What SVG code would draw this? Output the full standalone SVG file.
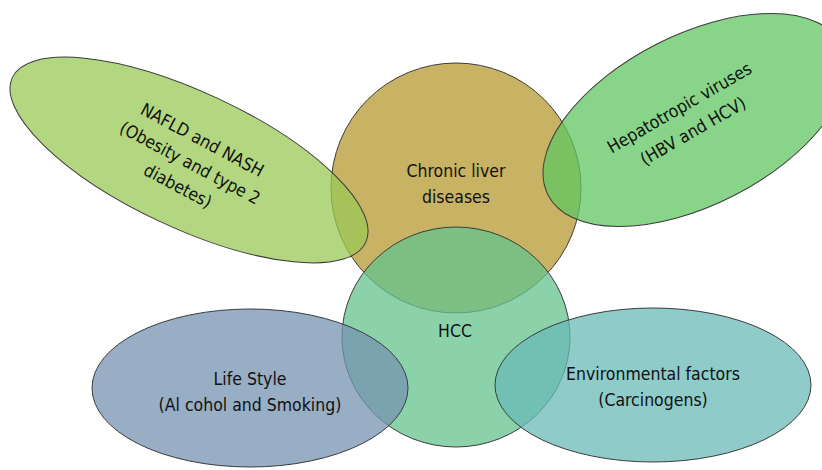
<svg xmlns="http://www.w3.org/2000/svg" width="822" height="470" viewBox="0 0 822 470">
<style>
.sh{stroke:#3c3c3c;stroke-width:1;fill-opacity:0.75}
.t{font-family:"DejaVu Sans Condensed","DejaVu Sans",sans-serif;font-size:17.5px;fill:#111;text-anchor:middle}
</style>
<rect width="822" height="470" fill="#fff"/>
<g id="chronic">
<circle class="sh" cx="456" cy="188" r="125" fill="#b6982f" stroke="#1a1a1a"/>
</g>
<g id="nafld">
<ellipse class="sh" cx="189" cy="160" rx="195" ry="68" transform="rotate(25 189 160)" fill="#9ac856"/>
</g>
<g id="hepatotropic">
<ellipse class="sh" cx="695" cy="120" rx="165" ry="85" transform="rotate(-27 695 120)" fill="#60c660"/>
</g>
<g id="hcc">
<ellipse class="sh" cx="456" cy="337" rx="114" ry="110" fill="#64c38e"/>
</g>
<g id="lifestyle">
<ellipse class="sh" cx="250" cy="388" rx="158" ry="79" fill="#7693b0"/>
</g>
<g id="environmental">
<ellipse class="sh" cx="653" cy="385" rx="158" ry="77" fill="#68b9b7"/>
</g>
<g id="labels">
<text class="t" x="456" y="177">Chronic liver</text>
<text class="t" x="456" y="203">diseases</text>
<text class="t" x="455" y="337">HCC</text>
<text class="t" x="250" y="385">Life Style</text>
<text class="t" x="250" y="411">(Al cohol and Smoking)</text>
<text class="t" x="653" y="380">Environmental factors</text>
<text class="t" x="653" y="406">(Carcinogens)</text>
<g transform="translate(190 163) rotate(28)">
<text class="t" x="0" y="-20">NAFLD and NASH</text>
<text class="t" x="0" y="6">(Obesity and type 2</text>
<text class="t" x="0" y="32">diabetes)</text>
</g>
<g transform="translate(686 119) rotate(-30)">
<text class="t" x="0" y="-7">Hepatotropic viruses</text>
<text class="t" x="0" y="20">(HBV and HCV)</text>
</g>
</g>
</svg>
